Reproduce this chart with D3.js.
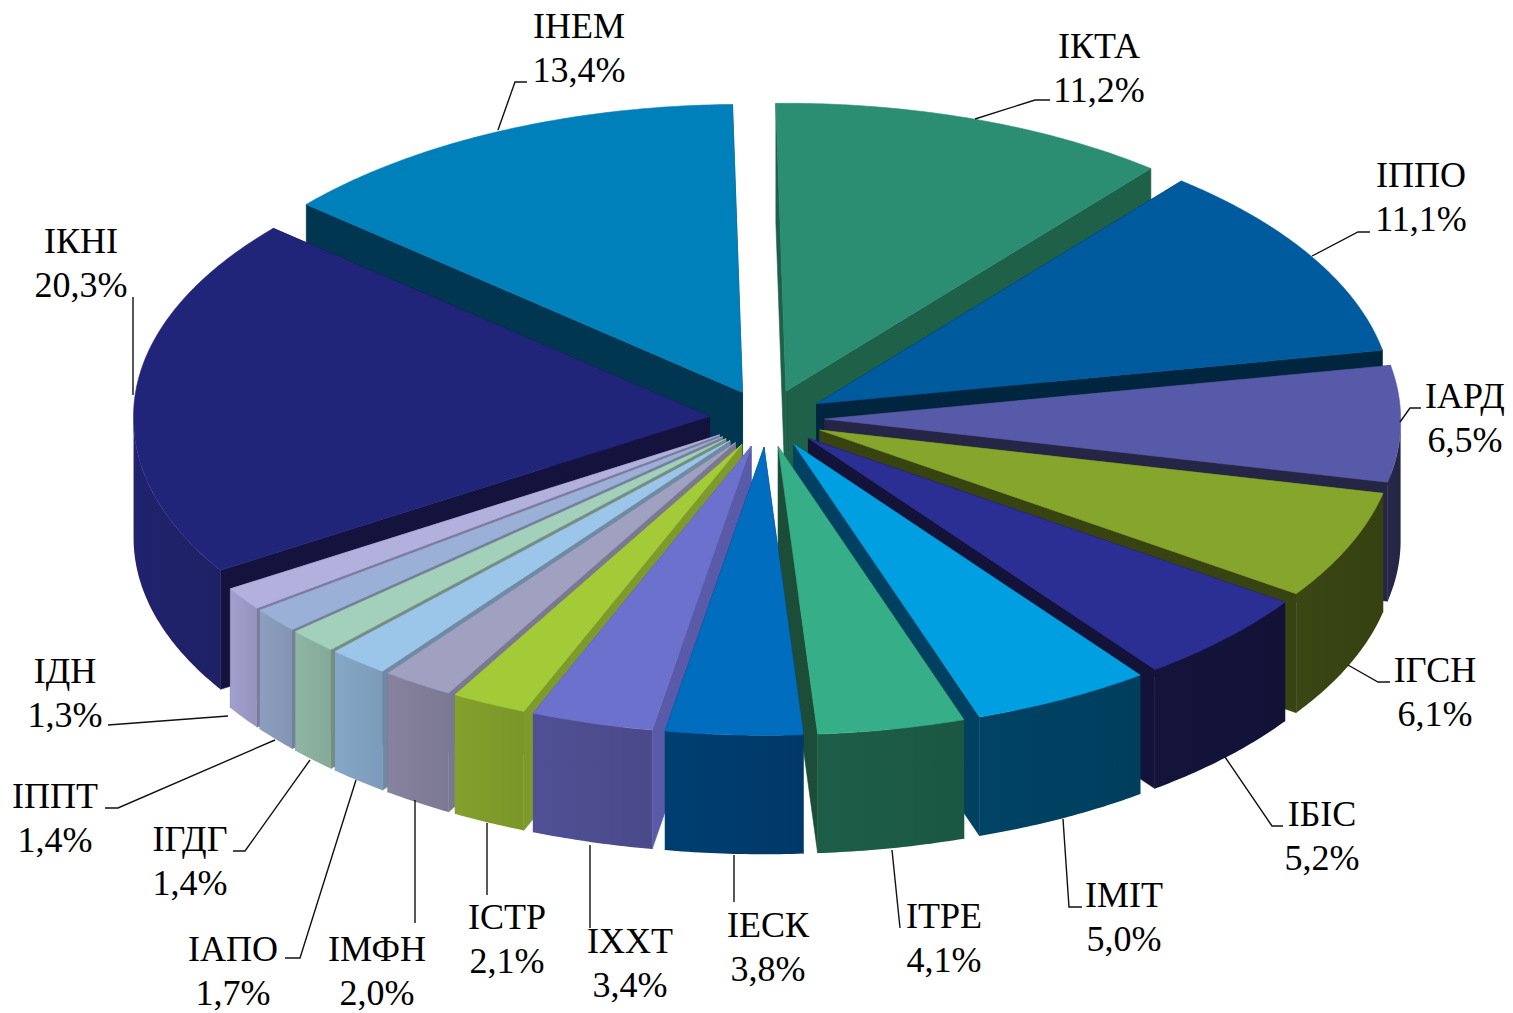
<!DOCTYPE html>
<html><head><meta charset="utf-8">
<script src="https://cdn.jsdelivr.net/npm/d3@7"></script>
<style>html,body{margin:0;padding:0;background:#fff}svg{display:block}</style>
</head><body><svg id="c" width="1513" height="1013"></svg>
<script>
const categories=["ІКТА","ІППО","ІАРД","ІГСН","ІБІС","ІМІТ","ІТРЕ","ІЕСК","ІХХТ","ІСТР","ІМФН","ІАПО","ІГДГ","ІППТ","ІДН","ІКНІ","ІНЕМ"];
const shares=[11.2,11.1,6.5,6.1,5.2,5.0,4.1,3.8,3.4,2.1,2.0,1.7,1.4,1.4,1.3,20.3,13.4];
const topColors=["#2b8e72","#005a9e","#575aa9","#85a52c","#2b2e92","#009fe2","#36ae87","#006dbf","#6c71cd","#a2cb37","#a0a0c0","#9cc6e9","#a3d0bb","#9bb0d6","#b2b0dd","#21257a","#0080ba"];
const wallColors=["#1f6049","#003350","#252545","#384312","#131339","#004060","#1c5a45","#003b6c","#4c4c8e","#7e9a2a","#807d98","#80a0bf","#88ae9c","#8798b8","#9a98c4","#1f2268","#003650"];
const faceColors=["#1f6049","#00263f","#252545","#384312","#131339","#004060","#1b4d38","#003b6c","#5a5ba8","#7e9a2a","#7a7892","#6f8aa3","#748e80","#747f9c","#7d7b9c","#13133e","#003650"];

const labelLayout=[[1099,58],[1421,187],[1465,408],[1435,682],[1322,826],[1124,907],[944,928],[768,937],[630,953],[507,929],[377,961],[233,961],[190,851],[55,808],[65,683],[81,253],[579,38]];
const leaderLayout=[
 [[975,119],[1035,100],[1050,100]],
 [[1312,256],[1358,232],[1370,232]],
 [[1400,422],[1410,408],[1421,408]],
 [[1348,665],[1378,682],[1390,682]],
 [[1225,757],[1272,826],[1283,826]],
 [[1063,819],[1069,907],[1082,907]],
 [[892,850],[900,928]],
 [[734,855],[734,902]],
 [[590,845],[590,928]],
 [[487,823],[487,895]],
 [[415,800],[415,923]],
 [[356,780],[300,958],[285,958]],
 [[310,760],[245,851],[233,851]],
 [[275,740],[118,808],[105,808]],
 [[228,716],[108,725]],
 [[133,395],[133,297]],
 [[498,130],[515,82],[527,82]]
];

const cx=767, cy=418.5, rx=576, ry=288, depth=119, explode=0.1, rotation=-1*Math.PI/180, frontGrow=0.008;
const sx=d3.scaleLinear().domain([-1,1]).range([cx-rx,cx+rx]);
const sy=d3.scaleLinear().domain([-1,1]).range([cy-ry,cy+ry]);
const pie=d3.pie().sort(null).value(d=>d).startAngle(rotation).endAngle(rotation+2*Math.PI);
const arcs=pie(shares).map((a,i)=>({...a,i,mid:(a.startAngle+a.endAngle)/2}));

const line=d3.line();
function pt(a,r,ox,oy,dz){
  const u=ox+r*Math.sin(a), v=oy-r*Math.cos(a);
  return [sx(u*(1+frontGrow*Math.max(0,v))),sy(v)+(dz||0)];
}
function arcPts(a0,a1,ox,oy,dz){
  const n=Math.max(2,Math.ceil((a1-a0)/0.01));
  return d3.range(n+1).map(k=>pt(a0+(a1-a0)*k/n,1,ox,oy,dz));
}
const svg=d3.select("#c");
const defs=svg.append("defs");
const order=arcs.slice().sort((p,q)=>Math.abs(q.mid-Math.PI)-Math.abs(p.mid-Math.PI));
const g=svg.append("g").attr("class","pie");
function paint(sel,col){return sel.attr("fill",col).attr("stroke",col).attr("stroke-width",0.6).attr("stroke-linejoin","round");}
order.forEach(a=>{
  const ox=explode*Math.sin(a.mid), oy=-explode*Math.cos(a.mid);
  const c=pt(0,0,ox,oy,0), cb=pt(0,0,ox,oy,depth);
  const s=g.append("g").attr("class","slice");
  [a.startAngle,a.endAngle].forEach(t=>{
    const o=pt(t,1,ox,oy,0), ob=pt(t,1,ox,oy,depth);
    paint(s.append("path").attr("d",line([c,o,ob,cb])+"Z"),faceColors[a.i]);
  });
  const w0=Math.max(a.startAngle,Math.PI/2), w1=Math.min(a.endAngle,3*Math.PI/2);
  if(w1>w0){
    const top=arcPts(w0,w1,ox,oy,0), bot=arcPts(w0,w1,ox,oy,depth).reverse();
    const xs=top.map(p=>p[0]);
    const id="w"+a.i, base=d3.color(wallColors[a.i]);
    const lg=defs.append("linearGradient").attr("id",id).attr("gradientUnits","userSpaceOnUse")
      .attr("x1",d3.min(xs)).attr("x2",d3.max(xs)).attr("y1",0).attr("y2",0);
    lg.append("stop").attr("offset",0).attr("stop-color",base.brighter(0.12).formatHex());
    lg.append("stop").attr("offset",1).attr("stop-color",base.darker(0.08).formatHex());
    s.append("path").attr("d",line(top.concat(bot))+"Z").attr("fill",`url(#${id})`);
  }
  paint(s.append("path").attr("d",line([c].concat(arcPts(a.startAngle,a.endAngle,ox,oy,0)))+"Z"),topColors[a.i]);
});
svg.append("g").selectAll("path").data(leaderLayout).join("path")
  .attr("d",d=>line(d)).attr("fill","none").attr("stroke","#111").attr("stroke-width",1.4);
const lab=svg.append("g").attr("font-family","'Liberation Serif','Times New Roman',serif").attr("font-size",36).attr("fill","#000").attr("text-anchor","middle");
arcs.forEach(a=>{
  const [x,y]=labelLayout[a.i];
  const t=lab.append("text").attr("x",x).attr("y",y);
  t.append("tspan").attr("x",x).text(categories[a.i]);
  t.append("tspan").attr("x",x).attr("dy",44).text(shares[a.i].toFixed(1).replace(".",",")+"%");
});
</script></body></html>
